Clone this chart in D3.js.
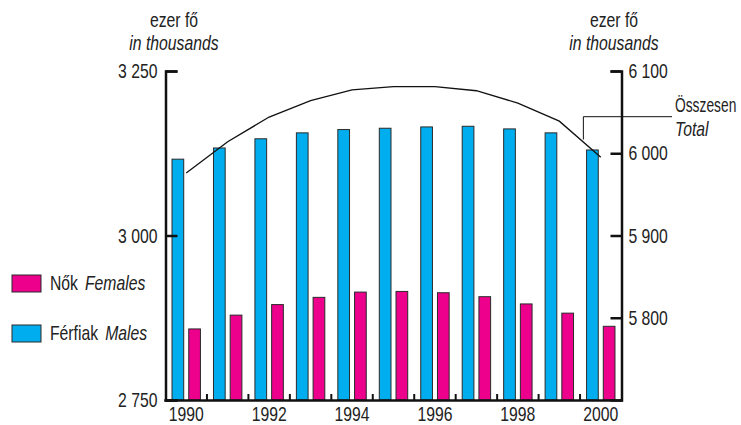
<!DOCTYPE html>
<html>
<head>
<meta charset="utf-8">
<script src="https://cdn.jsdelivr.net/npm/d3@7"></script>
<style>
  html, body { margin: 0; padding: 0; background: #fff; }
  svg { display: block; }
  text { font-family: "Liberation Sans", Arial, sans-serif; fill: #222; }
</style>
</head>
<body>
<svg id="chart" width="741" height="425"></svg>
<script>
const years = [1990, 1991, 1992, 1993, 1994, 1995, 1996, 1997, 1998, 1999, 2000];
const males = [3116, 3133, 3147, 3156, 3161, 3163, 3165, 3166, 3162, 3156, 3130];
const females = [2858, 2879, 2895, 2906, 2914, 2915, 2913, 2907, 2896, 2882, 2862];
const total = [5976, 6014, 6044, 6064, 6077, 6081, 6081, 6076, 6061, 6039, 5995];
const leftTicks = [2750, 3000, 3250];
const rightTicks = [5800, 5900, 6000, 6100];
const yearLabels = [1990, 1992, 1994, 1996, 1998, 2000];
const seriesKeys = ["males", "females"];
const seriesNames = [["Nők", "Females"], ["Férfiak", "Males"]];

const colors = { males: "#00aeef", females: "#ec008c" };
const svg = d3.select("#chart");
const font = 21;
const squeeze = 0.75;

// horizontally condense text around its anchor x (emulates a condensed typeface)
function condense(sel, f) {
  const k = f || squeeze;
  sel.each(function () {
    const x0 = +this.getAttribute("x") || 0;
    this.setAttribute("transform", `translate(${(x0 * (1 - k)).toFixed(2)},0) scale(${k},1)`);
  });
}

const xLeft = 165.5, xRight = 621.5, yTop = 71, yBottom = 400;

const x = d3.scaleBand().domain(years).range([xLeft, xRight]).padding(0);
const xs = d3.scaleBand().domain(seriesKeys).range([0, x.step()]).paddingInner(0.3).paddingOuter(0.39);
const yL = d3.scaleLinear().domain([2750, 3250]).range([yBottom, yTop]);
const yR = d3.scaleLinear().domain([5700, 6100]).range([yBottom, yTop]);

const loc = d3.formatLocale({ decimal: ",", thousands: " ", grouping: [3], currency: ["", ""] });
const fmt = loc.format(",d");

// bars
const rows = years.map((yr, i) => ({ year: yr, males: males[i], females: females[i] }));
const g = svg.append("g");
g.selectAll("g.grp").data(rows).join("g")
  .attr("transform", d => `translate(${x(d.year)},0)`)
  .selectAll("rect").data(d => seriesKeys.map(k => ({ k, v: d[k] }))).join("rect")
  .attr("x", d => xs(d.k))
  .attr("width", xs.bandwidth())
  .attr("y", d => yL(d.v))
  .attr("height", d => yL(2750) - yL(d.v))
  .attr("fill", d => colors[d.k])
  .attr("stroke", "#2a2a2a")
  .attr("stroke-width", 1);

// left axis
const axL = svg.append("g").attr("transform", `translate(${xLeft},0)`)
  .call(d3.axisLeft(yL).tickValues(leftTicks).tickSize(-12).tickPadding(8).tickFormat(fmt));
axL.select(".domain").attr("stroke", "#111").attr("stroke-width", 2.5);
axL.selectAll(".tick line").attr("stroke", "#111").attr("stroke-width", 2.5);
axL.selectAll(".tick text").style("font-size", font + "px").attr("fill", "#222").attr("font-family", null);

// right axis
const axR = svg.append("g").attr("transform", `translate(${xRight},0)`)
  .call(d3.axisRight(yR).tickValues(rightTicks).tickSize(-11).tickSizeOuter(-11).tickPadding(7).tickFormat(fmt));
axR.select(".domain").attr("stroke", "#111").attr("stroke-width", 2.5);
axR.selectAll(".tick line").attr("stroke", "#111").attr("stroke-width", 2.5);
axR.selectAll(".tick text").style("font-size", font + "px").attr("fill", "#222").attr("font-family", null);

// baseline
svg.append("line").attr("x1", xLeft - 1.25).attr("x2", xRight + 1.25)
  .attr("y1", yBottom + 0.5).attr("y2", yBottom + 0.5)
  .attr("stroke", "#111").attr("stroke-width", 2.5);

// group boundary ticks
svg.append("g").selectAll("line").data(years.slice(1)).join("line")
  .attr("x1", d => x(d)).attr("x2", d => x(d))
  .attr("y1", yBottom - 6).attr("y2", yBottom)
  .attr("stroke", "#111").attr("stroke-width", 2);

// year labels
const axB = svg.append("g").attr("transform", `translate(0,${yBottom + 1})`)
  .call(d3.axisBottom(x).tickValues(yearLabels).tickSize(0).tickPadding(5));
axB.select(".domain").remove();
axB.selectAll(".tick text").style("font-size", font + "px").attr("fill", "#222").attr("font-family", null);

// total line
const line = d3.line().x((d, i) => x(years[i]) + x.bandwidth() / 2).y(d => yR(d));
svg.append("path").datum(total).attr("d", line)
  .attr("fill", "none").attr("stroke", "#111").attr("stroke-width", 1.3);

// unit titles
function unit(cx) {
  svg.append("text").attr("x", cx).attr("y", 27).attr("text-anchor", "middle")
    .style("font-size", font + "px").text("ezer fő");
  svg.append("text").attr("x", cx).attr("y", 50).attr("text-anchor", "middle")
    .style("font-size", font + "px").style("font-style", "italic").text("in thousands");
}
unit(174);
unit(614);

condense(svg.selectAll("text"));

// Total annotation
const ax = x(years[10]) + x.step() * 0.08;
svg.append("path")
  .attr("d", `M${ax},139.5V116.7H672`)
  .attr("fill", "none").attr("stroke", "#111").attr("stroke-width", 1);
const tot1 = svg.append("text").attr("x", 675).attr("y", 112).style("font-size", "20px").text("Összesen");
const tot2 = svg.append("text").attr("x", 675).attr("y", 136).style("font-size", font + "px").style("font-style", "italic").text("Total");
condense(tot1, 0.69);
condense(tot2);

// legend
const legendKeys = ["females", "males"];
legendKeys.forEach((k, i) => {
  const yy = 275 + i * 50;
  svg.append("rect").attr("x", 12).attr("y", yy).attr("width", 29).attr("height", 17)
    .attr("fill", colors[k]).attr("stroke", "#2a2a2a").attr("stroke-width", 1);
  const t1 = svg.append("text").attr("x", 50).attr("y", yy + 15).style("font-size", font + "px")
    .text(seriesNames[i][0]);
  const w1 = t1.node().getComputedTextLength() * squeeze;
  condense(t1);
  const t2 = svg.append("text").attr("x", 50 + w1 + 7).attr("y", yy + 15).style("font-size", font + "px")
    .style("font-style", "italic").text(seriesNames[i][1]);
  condense(t2);
});
</script>
</body>
</html>
